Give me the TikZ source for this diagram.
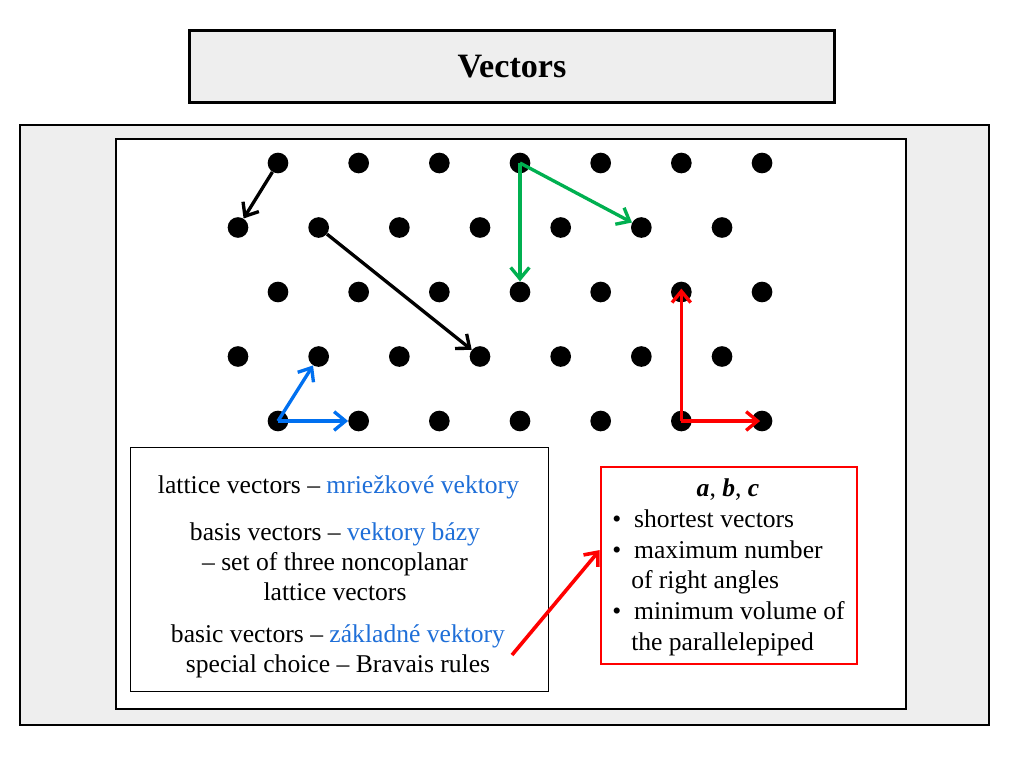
\documentclass[tikz,border=0pt]{standalone}
\usepackage{fontspec}
\setmainfont{Liberation Serif}
\usetikzlibrary{arrows.meta}
\definecolor{slidegray}{HTML}{EEEEEE}
\definecolor{skblue}{HTML}{1F6FD8}
\definecolor{vecblue}{HTML}{0070F0}
\definecolor{vecgreen}{HTML}{00B050}
\begin{document}
\begin{tikzpicture}[x=0.75pt,y=-0.75pt,
    vec/.style={line width=2.5pt,-{Straight Barb[length=8.5pt,width=14pt]}},
    txt/.style={font=\fontsize{19.2}{22.5}\selectfont,align=center,inner sep=0pt}]
      \useasboundingbox[fill=white] (0,0) rectangle (1024,768);
      \draw[fill=slidegray,line width=1.5pt] (20,125) rectangle (989,725);
      \draw[fill=white,line width=1.5pt] (116,139) rectangle (906,709);
      \node[draw,line width=2.25pt,fill=slidegray,minimum width=484pt,minimum height=54pt,
        font=\bfseries\fontsize{25.6}{30}\selectfont] (title) at (512,66.5) {Vectors};
      % lattice points
      \begin{scope}[every node/.style={circle,fill=black,minimum size=15.5pt,inner sep=0pt}]
        \foreach \r in {0,...,4}
          \foreach \c in {0,...,6}
            \node (p\r\c) at ({278+80.67*\c-40*mod(\r,2)},{163+64.5*\r}) {};
      \end{scope}
      % vectors
      \draw[vec] (p00) -- (p10);
      \draw[vec] (p11) -- (p33);
      \draw[vec,vecgreen] (p03.center) -- (p23);
      \draw[vec,vecgreen] (p03.center) -- (p15);
      \draw[vec,vecblue] (p40.center) -- (p31);
      \draw[vec,vecblue] (p40.center) -- (p41);
      \draw[vec,red,shorten >=-10.5pt] (p45.center) -- (p25);
      \draw[vec,red,shorten >=-6.5pt] (p45.center) -- (p46);
      % legend
      \node[draw,line width=0.75pt,minimum width=313.5pt,minimum height=183pt] (lbox) at (339,569) {};
      \node[txt] (lattice) at (338.5,487) {lattice vectors -- \textcolor{skblue}{mriežkové vektory}};
      \node[txt] (basis) at (335,562) {basis vectors -- \textcolor{skblue}{vektory bázy}\\-- set of three noncoplanar\\lattice vectors};
      \node[txt] (basic) at (338,651) {basic vectors -- \textcolor{skblue}{základné vektory}\\special choice -- Bravais rules};
      \node[draw=red,line width=1.9pt,minimum width=192pt,minimum height=147.75pt] (rbox) at (729,565.5) {};
      \node[txt] (abc) at (728,490) {\textbf{\textit{a}}, \textbf{\textit{b}}, \textbf{\textit{c}}};
      \node[txt,align=left,anchor=west,font=\fontsize{19.2}{23}\selectfont] (rules) at (612,582.5)
        {\textbullet\hspace{9.75pt}shortest vectors\\
         \textbullet\hspace{9.75pt}maximum number\\
         \hspace{14.25pt}of right angles\\
         \textbullet\hspace{9.75pt}minimum volume of\\
         \hspace{14.25pt}the parallelepiped};
      \coordinate (src) at (512,655);
      \coordinate (dst) at ([yshift=11.6pt]rbox.west);
      \draw[vec,red,line width=2.7pt] (src) -- (dst);
\end{tikzpicture}
\end{document}
